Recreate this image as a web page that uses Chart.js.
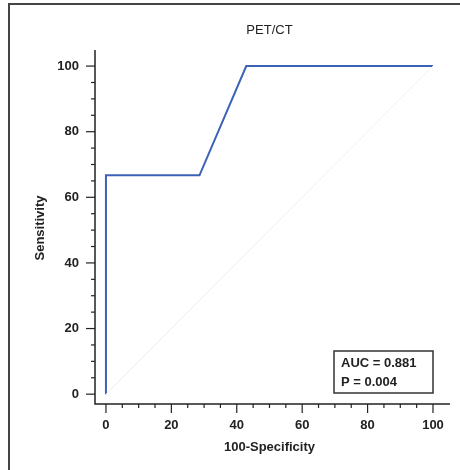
<!DOCTYPE html>
<html>
<head>
<meta charset="utf-8">
<script src="https://cdn.jsdelivr.net/npm/chart.js@4"></script>
<style>
  html, body { margin: 0; padding: 0; background: #fff; }
  #wrap { width: 460px; height: 470px; position: relative; }
</style>
</head>
<body>
<div id="wrap"><canvas id="roc"></canvas></div>
<script>
// ROC curve - PET/CT
const specX = [0, 0, 28.6, 42.9, 100];        // 100-Specificity
const sensY = [0, 66.7, 66.7, 100, 100];      // Sensitivity
const refX = [0, 100];
const refY = [0, 100];
const xTicks = [0, 20, 40, 60, 80, 100];
const yTicks = [0, 20, 40, 60, 80, 100];
const minorStep = 5;
const titulo = 'PET/CT';
const xTitulo = '100-Specificity';
const yTitulo = 'Sensitivity';
const caixaTexto = ['AUC = 0.881', 'P = 0.004'];

const FONT = '"Liberation Sans", Arial, sans-serif';

// desenha eixos, ticks, textos e moldura
const eixosPlugin = {
  id: 'eixos',
  afterDraw(chart) {
    const ctx = chart.ctx;
    const xs = chart.scales.x, ys = chart.scales.y;
    const area = chart.chartArea;
    ctx.save();

    // moldura externa
    ctx.strokeStyle = '#444';
    ctx.lineWidth = 2;
    ctx.beginPath();
    ctx.moveTo(9, 470);
    ctx.lineTo(9, 4);
    ctx.lineTo(460, 4);
    ctx.stroke();

    // linhas dos eixos
    ctx.strokeStyle = '#222';
    ctx.lineWidth = 1.5;
    ctx.beginPath();
    ctx.moveTo(area.left, area.top);
    ctx.lineTo(area.left, area.bottom);
    ctx.lineTo(area.right, area.bottom);
    ctx.stroke();

    // ticks
    ctx.lineWidth = 1.2;
    for (let v = 0; v <= 100; v += minorStep) {
      const major = xTicks.includes(v);
      const len = major ? 9 : 4;
      const px = xs.getPixelForValue(v);
      ctx.beginPath();
      ctx.moveTo(px, area.bottom);
      ctx.lineTo(px, area.bottom + len);
      ctx.stroke();
      const py = ys.getPixelForValue(v);
      const lenY = yTicks.includes(v) ? 9 : 4;
      ctx.beginPath();
      ctx.moveTo(area.left, py);
      ctx.lineTo(area.left - lenY, py);
      ctx.stroke();
    }

    ctx.fillStyle = '#222';
    ctx.font = 'bold 13px ' + FONT;
    ctx.textAlign = 'center';
    ctx.textBaseline = 'top';
    xTicks.forEach(v => ctx.fillText(String(v), xs.getPixelForValue(v), area.bottom + 15));
    ctx.textAlign = 'right';
    ctx.textBaseline = 'middle';
    yTicks.forEach(v => ctx.fillText(String(v), ys.left - 16 + area.left - ys.left, ys.getPixelForValue(v)));

    // titulos
    ctx.textAlign = 'center';
    ctx.textBaseline = 'middle';
    ctx.fillText(xTitulo, (xs.getPixelForValue(0) + xs.getPixelForValue(100)) / 2, 447);
    ctx.save();
    ctx.translate(40, 228);
    ctx.rotate(-Math.PI / 2);
    ctx.fillText(yTitulo, 0, 0);
    ctx.restore();
    ctx.font = '13px ' + FONT;
    ctx.fillText(titulo, (xs.getPixelForValue(0) + xs.getPixelForValue(100)) / 2, 30);

    // caixa AUC
    ctx.fillStyle = '#fff';
    ctx.fillRect(334, 351, 99, 42);
    ctx.strokeStyle = '#333';
    ctx.lineWidth = 1.5;
    ctx.strokeRect(334, 351, 99, 42);
    ctx.fillStyle = '#222';
    ctx.font = 'bold 13px ' + FONT;
    ctx.textAlign = 'left';
    ctx.textBaseline = 'alphabetic';
    ctx.fillText(caixaTexto[0], 341, 367);
    ctx.fillText(caixaTexto[1], 341, 386);

    ctx.restore();
  }
};

function criarGrafico() {
  const canvas = document.getElementById('roc');
  new Chart(canvas, {
    type: 'scatter',
    data: {
      datasets: [
        {
          label: 'ref',
          data: refX.map((x, i) => ({ x, y: refY[i] })),
          showLine: true,
          borderColor: '#eeeeee',
          borderWidth: 1,
          pointRadius: 0
        },
        {
          label: 'ROC',
          data: specX.map((x, i) => ({ x, y: sensY[i] })),
          showLine: true,
          borderColor: '#3c62b8',
          borderWidth: 2,
          pointRadius: 0,
          tension: 0
        }
      ]
    },
    options: {
      responsive: false,
      animation: false,
      layout: { padding: { left: 95, right: 10, top: 50, bottom: 66 } },
      plugins: { legend: { display: false }, tooltip: { enabled: false } },
      scales: {
        x: { type: 'linear', min: -3.35, max: 105.2, display: false },
        y: { type: 'linear', min: -3.0, max: 104.9, display: false }
      }
    },
    plugins: [eixosPlugin]
  });
}

document.getElementById('roc').width = 460;
document.getElementById('roc').height = 470;
criarGrafico();
</script>
</body>
</html>
